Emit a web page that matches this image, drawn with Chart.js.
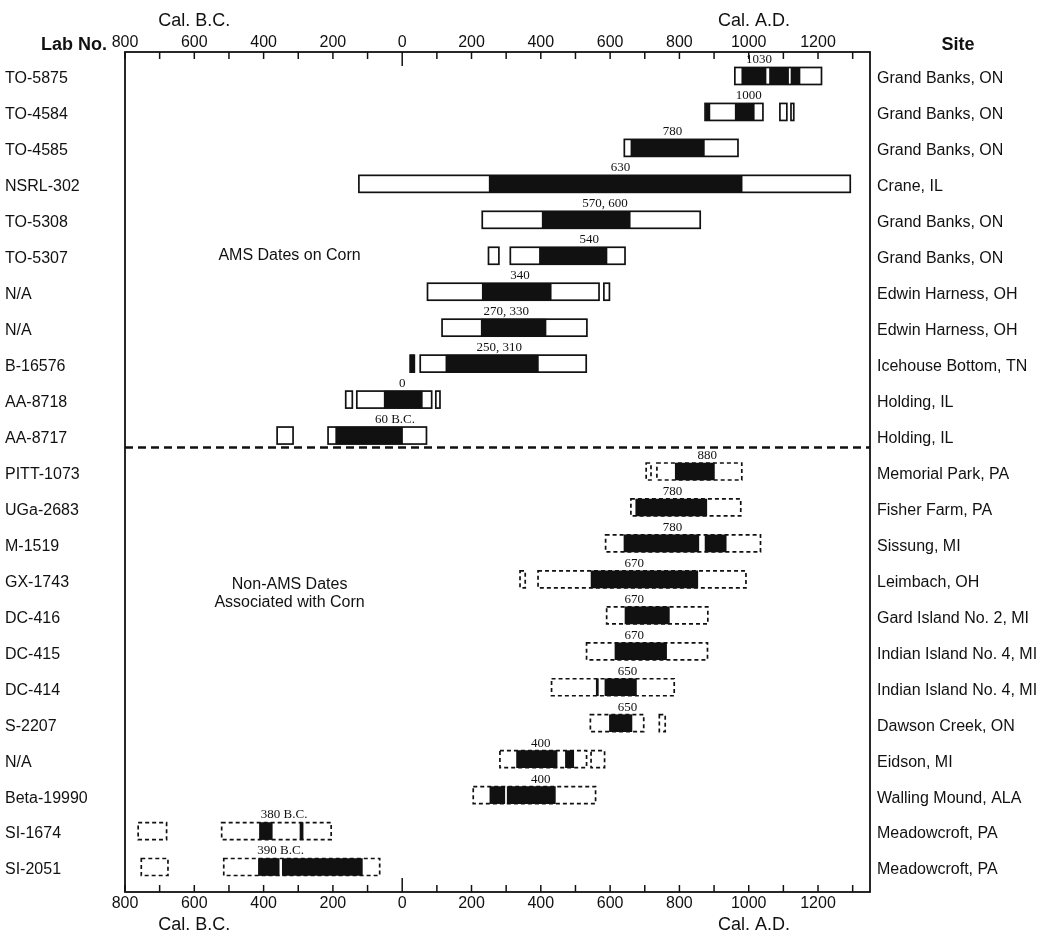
<!DOCTYPE html>
<html>
<head>
<meta charset="utf-8">
<title>Calibrated dates on corn</title>
<script src="https://cdn.jsdelivr.net/npm/chart.js@4.4.1/dist/chart.umd.min.js"></script>
<style>
  html, body { margin: 0; padding: 0; background: #fff; }
</style>
</head>
<body>
<canvas id="datesChart" width="1061" height="936"></canvas>
<script>
// rows, top to bottom
const labNos = ['TO-5875', 'TO-4584', 'TO-4585', 'NSRL-302', 'TO-5308', 'TO-5307', 'N/A', 'N/A',
  'B-16576', 'AA-8718', 'AA-8717', 'PITT-1073', 'UGa-2683', 'M-1519', 'GX-1743', 'DC-416',
  'DC-415', 'DC-414', 'S-2207', 'N/A', 'Beta-19990', 'SI-1674', 'SI-2051'];
const sites = ['Grand Banks, ON', 'Grand Banks, ON', 'Grand Banks, ON', 'Crane, IL', 'Grand Banks, ON',
  'Grand Banks, ON', 'Edwin Harness, OH', 'Edwin Harness, OH', 'Icehouse Bottom, TN', 'Holding, IL',
  'Holding, IL', 'Memorial Park, PA', 'Fisher Farm, PA', 'Sissung, MI', 'Leimbach, OH',
  'Gard Island No. 2, MI', 'Indian Island No. 4, MI', 'Indian Island No. 4, MI', 'Dawson Creek, ON',
  'Eidson, MI', 'Walling Mound, ALA', 'Meadowcroft, PA', 'Meadowcroft, PA'];
const method = ['AMS', 'AMS', 'AMS', 'AMS', 'AMS', 'AMS', 'AMS', 'AMS', 'AMS', 'AMS', 'AMS',
  'Non-AMS', 'Non-AMS', 'Non-AMS', 'Non-AMS', 'Non-AMS', 'Non-AMS', 'Non-AMS', 'Non-AMS',
  'Non-AMS', 'Non-AMS', 'Non-AMS', 'Non-AMS'];

// intercepts (negative = B.C.)
const intercepts = [[1030], [1000], [780], [630], [570, 600], [540], [340], [270, 330], [250, 310],
  [0], [-60], [880], [780], [780], [670], [670], [670], [650], [650], [400], [400], [-380], [-390]];

// 2 sigma ranges (open boxes), cal. years
const outerMain = [[960, 1210], [874, 1041], [641, 969], [-125, 1293], [231, 860], [312, 643],
  [73, 568], [115, 533], [52, 531], [-131, 85], [-214, 70], [735, 980], [660, 977], [587, 1034],
  [392, 992], [590, 882], [532, 881], [431, 785], [543, 697], [282, 532], [205, 558],
  [-521, -205], [-515, -65]];
const outerSide = [null, [1090, 1110], null, null, null, [249, 279], [582, 598], null, [23, 35],
  [-163, -144], [-361, -315], [704, 718], null, null, [340, 355], null, null, null, [742, 759],
  [545, 584], null, [-762, -680], [-753, -676]];
const outerSide2 = [null, [1122, 1130], null, null, null, null, null, null, null, [97, 109], null,
  null, null, null, null, null, null, null, null, null, null, null, null];

// 1 sigma ranges (black)
const innerMain = [[980, 1050], [961, 1016], [660, 872], [251, 981], [404, 658], [396, 591],
  [231, 430], [228, 415], [126, 393], [-52, 58], [-192, 1], [788, 901], [674, 879], [640, 856],
  [545, 853], [643, 771], [614, 763], [585, 676], [598, 663], [330, 447], [303, 442],
  [-412, -375], [-346, -115]];
const innerSide = [[1060, 1115], [876, 888], null, null, null, null, null, null, [23, 35], null,
  null, null, null, [874, 935], null, null, null, [560, 566], null, [471, 495], [253, 296],
  [-295, -286], [-415, -355]];
const innerSide2 = [[1122, 1148], null, null, null, null, null, null, null, null, null, null,
  null, null, null, null, null, null, null, null, null, null, null, null];

const ink = '#111';
const sans = '"Liberation Sans", Arial, sans-serif';

function yearLabel(v) {
  if (typeof v !== 'number' || v % 200 !== 0) return '';
  return String(Math.abs(v));
}

const outerSet = (data) => ({
  data, outline: true, order: 1, backgroundColor: '#fff', borderWidth: 0,
  barThickness: 17, grouped: false, xAxisID: 'x', yAxisID: 'y'
});
const innerSet = (data) => ({
  data, order: 0, backgroundColor: ink, borderWidth: 0,
  barThickness: 17, grouped: false, xAxisID: 'x', yAxisID: 'y'
});

// the printed frame sits a little outside the row band
const frameOf = (a) => ({ top: a.top - 6, bottom: a.bottom + 7, left: a.left, right: a.right });

const marks = {
  id: 'marks',
  afterDatasetsDraw(chart) {
    const { ctx } = chart;
    // outlines of the open boxes, solid for AMS, dashed otherwise
    chart.data.datasets.forEach((ds, i) => {
      if (!ds.outline) return;
      chart.getDatasetMeta(i).data.forEach((bar, j) => {
        if (ds.data[j] == null) return;
        const { x, y, base, height } = bar.getProps(['x', 'y', 'base', 'height'], true);
        ctx.save();
        ctx.strokeStyle = ink;
        ctx.lineWidth = 1.7;
        ctx.setLineDash(method[j] === 'AMS' ? [] : [4, 3]);
        ctx.strokeRect(Math.min(x, base), y - height / 2, Math.abs(x - base), height);
        ctx.restore();
      });
    });

    // intercept labels above each bar
    const xs = chart.scales.x;
    const main = chart.getDatasetMeta(0).data;
    ctx.save();
    ctx.fillStyle = ink;
    ctx.font = '13px "Liberation Serif", "Times New Roman", serif';
    ctx.textBaseline = 'bottom';
    ctx.textAlign = 'left';
    intercepts.forEach((vals, j) => {
      const { y, height } = main[j].getProps(['y', 'height'], true);
      const mid = vals.reduce((a, b) => a + b, 0) / vals.length;
      const num = vals.map(v => Math.abs(v)).join(', ');
      const text = vals[0] < 0 ? num + ' B.C.' : num;
      const px = xs.getPixelForValue(mid);
      ctx.fillText(text, px - ctx.measureText(num).width / 2, y - height / 2 - 1);
    });
    ctx.restore();
  },
  afterDraw(chart) {
    const { ctx, chartArea, scales } = chart;
    const f = frameOf(chartArea);
    ctx.save();
    ctx.strokeStyle = ink;
    ctx.fillStyle = ink;

    // frame
    ctx.lineWidth = 1.8;
    ctx.strokeRect(f.left, f.top, f.right - f.left, f.bottom - f.top);

    // inward tick marks
    ctx.lineWidth = 1.5;
    [scales.x, scales.xTop].forEach(s => {
      const top = s.position === 'top';
      s.ticks.forEach(t => {
        if (t.value % 100 !== 0) return;
        const px = s.getPixelForValue(t.value);
        const len = t.value === 0 ? 14 : 7;
        const y0 = top ? f.top : f.bottom;
        ctx.beginPath();
        ctx.moveTo(px, y0);
        ctx.lineTo(px, top ? y0 + len : y0 - len);
        ctx.stroke();
      });
    });

    // dashed line between AMS and non-AMS dates
    const ys = scales.y;
    const split = method.indexOf('Non-AMS');
    const sy = (ys.getPixelForValue(split - 1) + ys.getPixelForValue(split)) / 2 - 6;
    ctx.lineWidth = 2.6;
    ctx.setLineDash([8, 5]);
    ctx.beginPath();
    ctx.moveTo(f.left, sy);
    ctx.lineTo(f.right, sy);
    ctx.stroke();
    ctx.setLineDash([]);

    // axis titles
    ctx.font = '18px ' + sans;
    ctx.textAlign = 'center';
    ctx.textBaseline = 'middle';
    const xs = scales.x;
    [f.top - 31, f.bottom + 33].forEach(ty => {
      ctx.fillText('Cal. B.C.', xs.getPixelForValue(-600), ty);
      ctx.fillText('Cal. A.D.', xs.getPixelForValue(1015), ty);
    });

    // column headers
    ctx.font = 'bold 18px ' + sans;
    ctx.textAlign = 'right';
    ctx.fillText('Lab No.', f.left - 18, f.top - 7);
    ctx.textAlign = 'center';
    ctx.fillText('Site', f.right + 88, f.top - 7);

    // group notes
    ctx.font = '16px ' + sans;
    const noteX = xs.getPixelForValue(-325);
    ctx.fillText('AMS Dates on Corn', noteX, ys.getPixelForValue(5));
    const ny = ys.getPixelForValue(14) + 5;
    ctx.fillText('Non-AMS Dates', noteX, ny);
    ctx.fillText('Associated with Corn', noteX, ny + 18);
    ctx.restore();
  }
};

const tickFont = { family: sans, size: 16 };

new Chart(document.getElementById('datesChart'), {
  type: 'bar',
  data: {
    labels: labNos,
    datasets: [
      innerSet(innerMain), innerSet(innerSide), innerSet(innerSide2),
      outerSet(outerMain), outerSet(outerSide), outerSet(outerSide2)
    ]
  },
  options: {
    indexAxis: 'y',
    responsive: false,
    animation: false,
    layout: { padding: { left: 5, right: 0, top: 0, bottom: 0 } },
    plugins: { legend: { display: false }, tooltip: { enabled: false } },
    scales: {
      x: {
        type: 'linear', position: 'bottom', min: -800, max: 1350,
        grid: { display: false, drawTicks: false }, border: { display: false },
        ticks: { stepSize: 100, autoSkip: false, maxRotation: 0, includeBounds: false,
          padding: 9, color: ink, font: tickFont, callback: yearLabel },
        afterFit: s => { s.height = 51; }
      },
      xTop: {
        type: 'linear', position: 'top', min: -800, max: 1350,
        grid: { display: false, drawTicks: false }, border: { display: false },
        ticks: { stepSize: 100, autoSkip: false, maxRotation: 0, includeBounds: false,
          padding: 6, color: ink, font: tickFont, callback: yearLabel },
        afterFit: s => { s.height = 58; }
      },
      y: {
        type: 'category', position: 'left',
        grid: { display: false, drawTicks: false }, border: { display: false },
        ticks: { crossAlign: 'far', autoSkip: false, padding: 0, labelOffset: 3,
          color: ink, font: tickFont },
        afterFit: s => { s.width = 120; }
      },
      ySite: {
        type: 'category', position: 'right', labels: sites,
        grid: { display: false, drawTicks: false }, border: { display: false },
        ticks: { autoSkip: false, padding: 7, labelOffset: 3, color: ink, font: tickFont },
        afterFit: s => { s.width = 191; }
      }
    }
  },
  plugins: [marks]
});
</script>
</body>
</html>
